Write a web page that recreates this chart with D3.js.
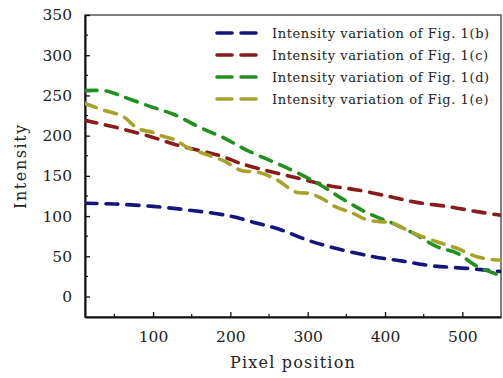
<!DOCTYPE html>
<html>
<head>
<meta charset="utf-8">
<script src="https://cdn.jsdelivr.net/npm/d3@7"></script>
<style>
  body { margin: 0; background: #fff; }
  svg text { font-family: "DejaVu Serif", serif; fill: #222; }
</style>
</head>
<body>
<div id="chart"></div>
<script>
// Data
const seriesNames = [
    "Intensity variation of Fig. 1(b)",
    "Intensity variation of Fig. 1(c)",
    "Intensity variation of Fig. 1(d)",
    "Intensity variation of Fig. 1(e)"
];
const seriesColors = ["#15157e", "#8a1b1b", "#21901f", "#a6a22a"];

const xB = [12, 50, 100, 150, 200, 235, 265, 300, 340, 385, 423, 462, 506, 550];
const yB = [116, 115, 112, 107, 100, 91, 83, 70, 59, 49.5, 44, 38, 35, 31];

const xC = [12, 53, 96, 132, 167, 190, 210, 245, 288, 329, 364, 407, 441, 480, 519, 550];
const yC = [219, 210, 199, 188, 180, 174, 166.5, 157, 147, 137.5, 132.5, 124, 117, 112, 105.5, 101];

const xD = [12, 40, 61, 94, 128, 161, 192, 221, 254, 284, 316, 344, 378, 410, 436, 467, 493, 520, 550];
const yD = [256, 255.5, 248.5, 237, 226, 210, 197, 182, 168, 155, 139, 122, 103.5, 91, 79, 62, 54, 37, 26];

const xE = [12, 35, 61, 80, 100, 110, 128, 145, 171, 193, 213, 238, 262, 284, 303, 320, 335, 357, 378, 410, 436, 467, 493, 520, 550];
const yE = [240, 232, 224, 209, 204, 200, 195, 185, 176, 168, 157, 154, 144, 130, 128, 121, 112, 104, 95, 91, 79, 68, 60, 49, 45];

const xTicks = [100, 200, 300, 400, 500];
const xMinor = [50, 150, 250, 350, 450];
const yTicks = [0, 50, 100, 150, 200, 250, 300, 350];
const yMinor = [25, 75, 125, 175, 225, 275, 325];

const width = 503, height = 378;
const margin = { left: 85, right: 2, top: 15, bottom: 61 };

const svg = d3.select("#chart").append("svg")
    .attr("width", width)
    .attr("height", height);

const x = d3.scaleLinear().domain([12, 550]).range([margin.left, width - margin.right]);
const y = d3.scaleLinear().domain([-25.5, 350]).range([height - margin.bottom, margin.top]);

// frame
svg.append("rect")
    .attr("x", x.range()[0])
    .attr("y", y.range()[1])
    .attr("width", x.range()[1] - x.range()[0])
    .attr("height", y.range()[0] - y.range()[1])
    .attr("fill", "none")
    .attr("stroke", "#555")
    .attr("stroke-width", 1.5);

// x axis
const xAxis = svg.append("g")
    .attr("transform", `translate(0,${y.range()[0]})`)
    .call(d3.axisBottom(x).tickValues(xTicks).tickSizeInner(-5).tickSizeOuter(0).tickPadding(14));
xAxis.select(".domain").attr("stroke", "#111").attr("stroke-width", 2);
xAxis.selectAll(".tick line").attr("stroke", "#111").attr("stroke-width", 1.3);
xAxis.selectAll("text").style("font-size", "15.5px").style("font-family", "DejaVu Serif");

svg.append("g")
    .attr("transform", `translate(0,${y.range()[0]})`)
    .selectAll("line")
    .data(xMinor)
    .join("line")
    .attr("x1", d => x(d)).attr("x2", d => x(d))
    .attr("y1", 0).attr("y2", -3)
    .attr("stroke", "#111").attr("stroke-width", 1.2);

// y axis
const yAxis = svg.append("g")
    .attr("transform", `translate(${x.range()[0]},0)`)
    .call(d3.axisLeft(y).tickValues(yTicks).tickSizeInner(-5).tickSizeOuter(0).tickPadding(13));
yAxis.select(".domain").attr("stroke", "#111").attr("stroke-width", 2);
yAxis.selectAll(".tick line").attr("stroke", "#111").attr("stroke-width", 1.3);
yAxis.selectAll("text").style("font-size", "15.5px").style("font-family", "DejaVu Serif");

svg.append("g")
    .attr("transform", `translate(${x.range()[0]},0)`)
    .selectAll("line")
    .data(yMinor)
    .join("line")
    .attr("x1", 0).attr("x2", 3)
    .attr("y1", d => y(d)).attr("y2", d => y(d))
    .attr("stroke", "#111").attr("stroke-width", 1.2);

// axis titles
svg.append("text")
    .attr("x", (x.range()[0] + x.range()[1]) / 2)
    .attr("y", 368)
    .attr("text-anchor", "middle")
    .style("font-size", "16px")
    .style("letter-spacing", "1.2px")
    .text("Pixel position");

svg.append("text")
    .attr("transform", `translate(26,${(y.range()[0] + y.range()[1]) / 2}) rotate(-90)`)
    .attr("text-anchor", "middle")
    .style("font-size", "16px")
    .style("letter-spacing", "1.6px")
    .text("Intensity");

// lines
const series = [
    { xs: xB, ys: yB },
    { xs: xC, ys: yC },
    { xs: xD, ys: yD },
    { xs: xE, ys: yE }
];

const line = d3.line()
    .x(d => x(d[0]))
    .y(d => y(d[1]))
    .curve(d3.curveCatmullRom.alpha(0.5));

const plot = svg.append("g");
plot.append("clipPath").attr("id", "clip")
    .append("rect")
    .attr("x", x.range()[0]).attr("y", y.range()[1])
    .attr("width", x.range()[1] - x.range()[0])
    .attr("height", y.range()[0] - y.range()[1]);

series.forEach((s, i) => {
    const pts = s.xs.map((v, j) => [v, s.ys[j]]);
    plot.append("path")
        .attr("clip-path", "url(#clip)")
        .attr("d", line(pts))
        .attr("fill", "none")
        .attr("stroke", seriesColors[i])
        .attr("stroke-width", 3.6)
        .attr("stroke-dasharray", "12,9")
        .attr("stroke-linecap", "round");
});

// legend
const legend = svg.append("g");
seriesNames.forEach((name, i) => {
    const ly = 33 + i * 22;
    legend.append("line")
        .attr("x1", 217).attr("x2", 262)
        .attr("y1", ly).attr("y2", ly)
        .attr("stroke", seriesColors[i])
        .attr("stroke-width", 3.6)
        .attr("stroke-dasharray", "15,9")
        .attr("stroke-linecap", "round");
    legend.append("text")
        .attr("x", 272)
        .attr("y", ly)
        .attr("dy", "0.35em")
        .style("font-size", "13px")
        .style("letter-spacing", "0.6px")
        .text(name);
});
</script>
</body>
</html>
